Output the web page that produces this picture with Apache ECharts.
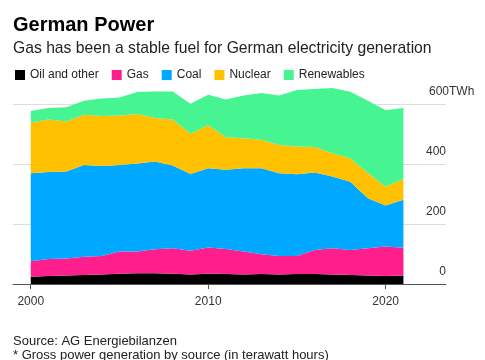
<!DOCTYPE html>
<html>
<head>
<meta charset="utf-8">
<script src="https://cdn.jsdelivr.net/npm/echarts@6/dist/echarts.min.js"></script>
<style>
html,body{margin:0;padding:0;background:#fff;}
#c{width:485px;height:360px;}
</style>
</head>
<body>
<div id="c"></div>
<script>
var years = [2000,2001,2002,2003,2004,2005,2006,2007,2008,2009,2010,2011,2012,2013,2014,2015,2016,2017,2018,2019,2020,2021];
var oilOther = [24,27,28,30,32,34,36,36,34,32,34,33,32,33,32,33,33,32,30,28,27,28];
var gas = [52,56,57,61,61,74,72,80,85,79,88,84,76,66,61,60,80,87,83,91,98,93];
var coal = [293,290,290,306,300,289,294,292,276,256,264,264,278,287,276,273,259,239,228,167,137,160];
var nuclear = [169,175,167,167,167,165,165,145,153,134,143,108,100,95,94,92,85,78,78,84,62,69];
var renewables = [39,39,47,47,58,60,73,89,94,100,102,126,142,156,165,189,193,217,222,241,255,237];
var xTicks = [2000,2010,2020];
var yTicks = [0,200,400,600];

var names = ['Oil and other','Gas','Coal','Nuclear','Renewables'];
var colors = ['#000000','#ff1f8c','#00a8ff','#ffc000','#46f592'];
var values = [oilOther,gas,coal,nuclear,renewables];

// value first, year second, so the stack is applied to the value dimension
function pairs(arr){ return years.map(function(y,i){ return [arr[i], y]; }); }

var FONT = 'Liberation Sans, Arial, Helvetica, sans-serif';
var chart = echarts.init(document.getElementById('c'));
chart.setOption({
  animation:false,
  backgroundColor:'#fff',
  textStyle:{fontFamily:FONT},
  color:colors,
  graphic:[
    {type:'text',left:13,top:15,style:{text:'German Power',fontFamily:FONT,fontSize:20,fontWeight:'bold',fill:'#000'}},
    {type:'text',left:13,top:41,style:{text:'Gas has been a stable fuel for German electricity generation',fontFamily:FONT,fontSize:15.7,fill:'#222'}},
    {type:'text',left:429,top:86,style:{text:'600TWh',fontFamily:FONT,fontSize:12,fill:'#333'}},
    {type:'text',left:13,top:335,style:{text:'Source: AG Energiebilanzen',fontFamily:FONT,fontSize:13,fill:'#222'}},
    {type:'text',left:13,top:349,style:{text:'* Gross power generation by source (in terawatt hours)',fontFamily:FONT,fontSize:13,fill:'#222'}}
  ],
  legend:{
    left:15, top:69, padding:0,
    icon:'rect', itemWidth:10, itemHeight:10, itemGap:13,
    textStyle:{fontFamily:FONT,fontSize:12,color:'#222'},
    data:names
  },
  grid:{left:13,right:39,top:104,bottom:76,containLabel:false},
  xAxis:{
    type:'value', min:1999, max:2023.4,
    axisLine:{show:true,lineStyle:{color:'#555',width:1}},
    axisTick:{show:true,length:5,lineStyle:{color:'#555'},customValues:xTicks},
    axisLabel:{show:true,margin:12,color:'#333',fontSize:12,fontFamily:FONT,customValues:xTicks,formatter:function(v){return String(v);}},
    splitLine:{show:false}
  },
  yAxis:{
    type:'value', position:'right', min:0, max:600, interval:200,
    axisLine:{show:false}, axisTick:{show:false},
    axisLabel:{inside:true,margin:0,align:'right',verticalAlign:'bottom',padding:[0,0,6,0],color:'#333',fontSize:12,fontFamily:FONT,
      formatter:function(v){ return v===600 ? '' : String(v); }},
    splitLine:{show:true,lineStyle:{color:'#dddddd',width:1}}
  },
  series:names.map(function(n,i){
    return {
      name:n, type:'line', stack:'total', data:pairs(values[i]),
      encode:{x:1,y:0},
      symbol:'none', showSymbol:false, clip:false,
      lineStyle:{width:0}, areaStyle:{color:colors[i],opacity:1},
      itemStyle:{color:colors[i]}
    };
  })
});
</script>
</body>
</html>
